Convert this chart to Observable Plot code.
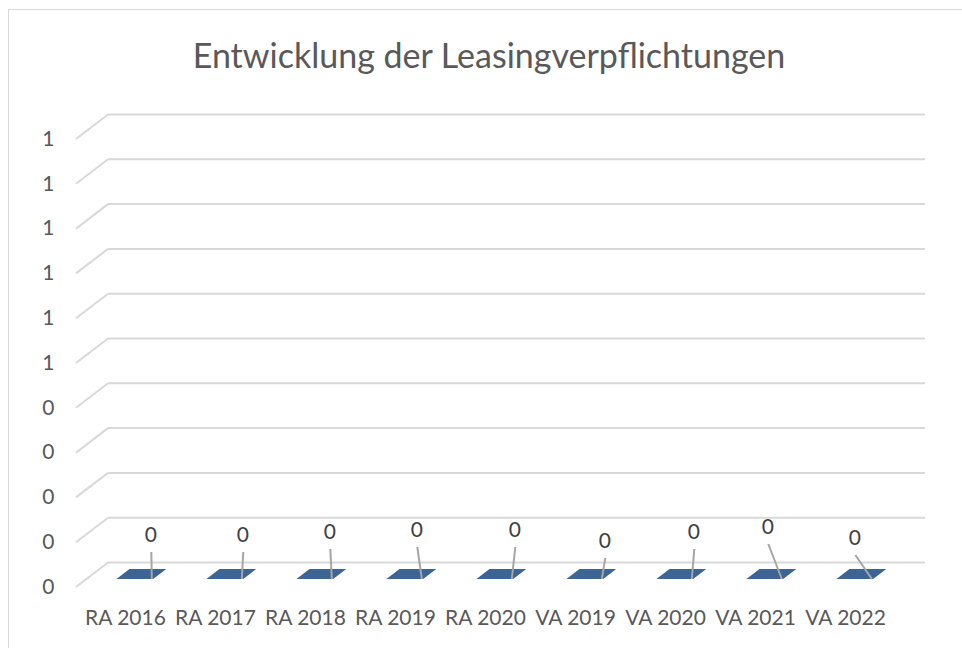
<!DOCTYPE html>
<html>
<head>
<meta charset="utf-8">
<script src="https://cdn.jsdelivr.net/npm/d3@7"></script>
<script src="https://cdn.jsdelivr.net/npm/@observablehq/plot@0.6"></script>
<style>
  html, body { margin: 0; padding: 0; background: #ffffff; }
  #frame {
    position: absolute; left: 8px; top: 9px; width: 1000px; height: 700px;
    border-left: 1px solid #d9d9d9; border-top: 1px solid #d9d9d9;
    overflow: hidden;
  }
  #title {
    box-sizing: border-box; width: 960px; height: 90px; padding-top: 28px;
    text-align: center; font-family: Lato, sans-serif; font-size: 34px; line-height: 34px;
    color: #595959; white-space: nowrap;
  }
</style>
</head>
<body>
<div id="frame">
  <div id="title">Entwicklung der Leasingverpflichtungen</div>
  <div id="chart"></div>
</div>
<script>
// ---- data ----
const categories = ["RA 2016", "RA 2017", "RA 2018", "RA 2019", "RA 2020", "VA 2019", "VA 2020", "VA 2021", "VA 2022"];
const values = [0, 0, 0, 0, 0, 0, 0, 0, 0];
const yTicks = [0, 0.1, 0.2, 0.3, 0.4, 0.5, 0.6, 0.7, 0.8, 0.9, 1.0];
const yTickLabels = ["0", "0", "0", "0", "0", "1", "1", "1", "1", "1", "1"];

// ---- layout (not data) ----
const labelOffsets = [[-3, -44], [-1, -44], [-4, -47], [-7, -49], [1, -49], [1, -38], [0, -47], [-16, -52], [-19, -41]];
const DEPTH = [32, -24.5];           // 3D depth vector (px)
const BAR_FRONT = 7.5, BAR_BACK = 17.5; // bar depth span along -y (px)
const BAR_WIDTH = 0.408;             // fraction of band
const M = {left: 67, right: 69, top: 38.5, bottom: 61.5};
const W = 953, H = 548;
const bwConst = (W - M.left - M.right) / categories.length;
const slope = DEPTH[0] / -DEPTH[1];
const cornerDx = BAR_FRONT * slope + BAR_WIDTH * bwConst / 2;

const rows = categories.map((cat, i) => ({cat, value: values[i], i}));

function slants(index, {x, y}) {
  const g = d3.create("svg:g").attr("stroke", "#d9d9d9").attr("stroke-width", 2).attr("fill", "none");
  const x0 = x.range()[0];
  for (const t of yTicks) {
    g.append("line")
      .attr("x1", x0).attr("y1", y(t) + 0.5)
      .attr("x2", x0 + DEPTH[0]).attr("y2", y(t) + DEPTH[1] + 0.5);
  }
  return g.node();
}

function bars(index, {x, y}) {
  const g = d3.create("svg:g").attr("fill", "#3c6594");
  const bw = x.bandwidth();
  const hw = BAR_WIDTH * bw / 2;
  for (const r of rows) {
    const cx = x(r.cat) + bw / 2;
    const y0 = y(0), yv = y(r.value);
    const fx = cx + BAR_FRONT * slope, bx = cx + BAR_BACK * slope;
    const top = [[fx - hw, yv - BAR_FRONT], [fx + hw, yv - BAR_FRONT], [bx + hw, yv - BAR_BACK], [bx - hw, yv - BAR_BACK]];
    const front = [[fx - hw, yv - BAR_FRONT], [fx + hw, yv - BAR_FRONT], [fx + hw, y0 - BAR_FRONT], [fx - hw, y0 - BAR_FRONT]];
    g.append("polygon").attr("points", front.map(p => p.join(",")).join(" "));
    g.append("polygon").attr("points", top.map(p => p.join(",")).join(" "));
  }
  return g.node();
}

function leaders(index, {x, y}) {
  const g = d3.create("svg:g").attr("stroke", "#a6a6a6").attr("stroke-width", 2);
  const bw = x.bandwidth();
  for (const r of rows) {
    const cx = x(r.cat) + bw / 2 + 0.5;
    const corner = [cx + cornerDx, y(r.value) - BAR_FRONT];
    const [ox, oy] = labelOffsets[r.i];
    g.append("line")
      .attr("x1", corner[0] - 2).attr("y1", corner[1])
      .attr("x2", corner[0] + ox + 0.5).attr("y2", corner[1] + oy + 17);
  }
  return g.node();
}

const labelMarks = rows.map(r => Plot.text([r], {
  x: "cat", y: "value", text: d => String(d.value),
  dx: cornerDx + labelOffsets[r.i][0], dy: -BAR_FRONT + labelOffsets[r.i][1],
  fill: "#404040", textAnchor: "middle"
}));

const chart = Plot.plot({
  width: W, height: H,
  marginLeft: M.left, marginRight: M.right, marginTop: M.top, marginBottom: M.bottom,
  style: {fontFamily: "Lato, sans-serif", fontSize: "21px", color: "#595959", background: "transparent", overflow: "visible"},
  x: {type: "band", domain: categories, padding: 0, axis: null},
  y: {domain: [0, 1], nice: false, axis: null},
  marks: [
    Plot.ruleY(yTicks, {stroke: "#d9d9d9", strokeWidth: 2, dx: DEPTH[0], dy: DEPTH[1]}),
    slants,
    Plot.axisY({ticks: yTicks, tickFormat: d => yTickLabels[yTicks.indexOf(d)], tickSize: 0, tickPadding: 22, label: null}),
    Plot.axisX({tickSize: 0, tickPadding: 23, label: null}),
    bars,
    leaders,
    ...labelMarks
  ]
});
document.getElementById("chart").appendChild(chart);
</script>
</body>
</html>
